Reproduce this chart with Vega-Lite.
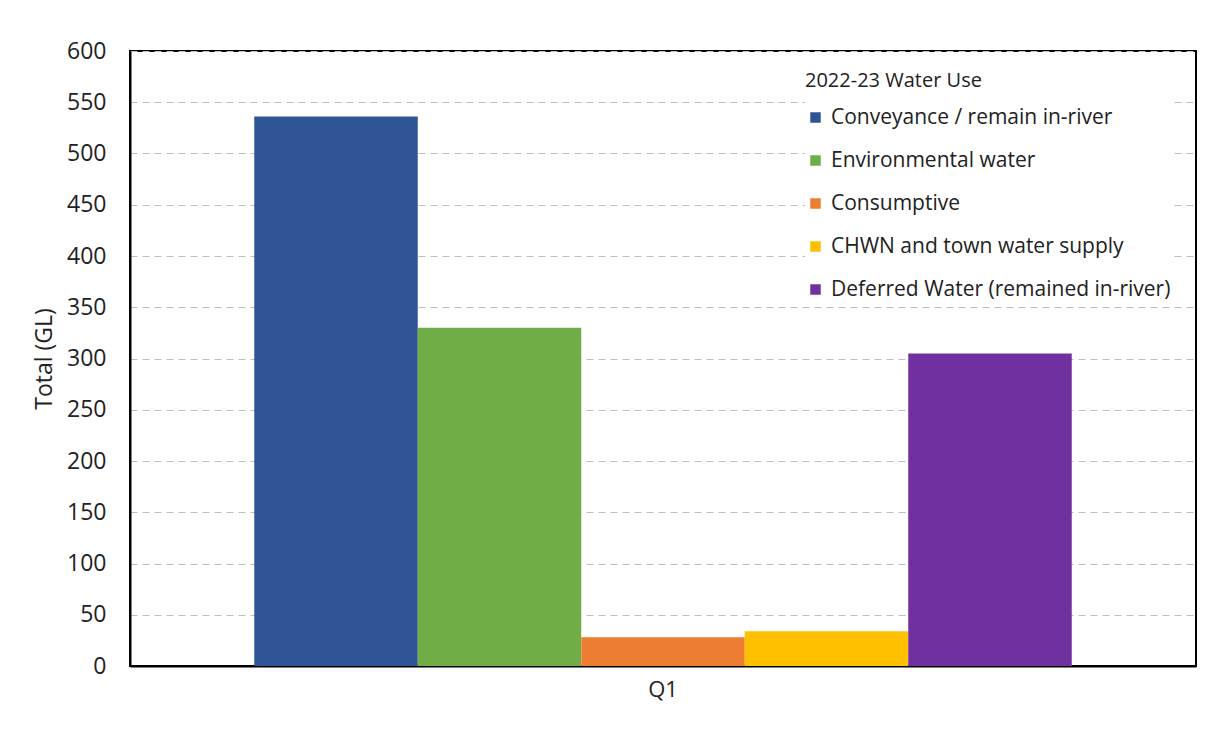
{
  "$schema": "https://vega.github.io/schema/vega-lite/v6.json",
  "autosize": {"type": "none"},
  "padding": {"left": 130, "top": 51, "right": 35, "bottom": 65},
  "width": 1066,
  "height": 615,
  "background": "white",
  "config": {
    "font": "Open Sans",
    "view": {"stroke": "black", "strokeWidth": 2}
  },
  "data": {
    "values": [
      {"quarter": "Q1", "use": "Conveyance / remain in-river", "total": 536},
      {"quarter": "Q1", "use": "Environmental water", "total": 330},
      {"quarter": "Q1", "use": "Consumptive", "total": 28},
      {"quarter": "Q1", "use": "CHWN and town water supply", "total": 34},
      {"quarter": "Q1", "use": "Deferred Water (remained in-river)", "total": 305}
    ]
  },
  "mark": {"type": "bar"},
  "encoding": {
    "x": {
      "field": "quarter",
      "type": "nominal",
      "scale": {"paddingInner": 0, "paddingOuter": 0.152},
      "axis": {
        "title": null,
        "labelAngle": 0,
        "labelFontSize": 22,
        "labelColor": "#222222",
        "labelPadding": 13,
        "ticks": false,
        "domainColor": "black",
        "domainWidth": 2
      }
    },
    "xOffset": {
      "field": "use",
      "type": "nominal",
      "sort": ["Conveyance / remain in-river", "Environmental water", "Consumptive", "CHWN and town water supply", "Deferred Water (remained in-river)"],
      "scale": {"paddingInner": 0, "paddingOuter": 0}
    },
    "y": {
      "field": "total",
      "type": "quantitative",
      "scale": {"domain": [0, 600], "nice": false},
      "axis": {
        "title": "Total (GL)",
        "titleFontSize": 23,
        "titleFontWeight": "normal",
        "titleColor": "#222222",
        "titlePadding": 10,
        "values": [0, 50, 100, 150, 200, 250, 300, 350, 400, 450, 500, 550, 600],
        "labelFontSize": 23,
        "labelColor": "#222222",
        "labelPadding": 24,
        "ticks": false,
        "domainColor": "black",
        "domainWidth": 2,
        "gridColor": "#bfbfbf",
        "gridDash": [7, 5],
        "gridWidth": 1
      }
    },
    "color": {
      "field": "use",
      "type": "nominal",
      "sort": ["Conveyance / remain in-river", "Environmental water", "Consumptive", "CHWN and town water supply", "Deferred Water (remained in-river)"],
      "scale": {
        "domain": ["Conveyance / remain in-river", "Environmental water", "Consumptive", "CHWN and town water supply", "Deferred Water (remained in-river)"],
        "range": ["#2F5597", "#70AD47", "#ED7D31", "#FFC000", "#7030A0"]
      },
      "legend": {
        "title": "2022-23  Water Use",
        "orient": "none",
        "legendX": 675,
        "legendY": 20,
        "titleFontSize": 20,
        "titleFontWeight": "normal",
        "titleColor": "#222222",
        "titleLimit": 400,
        "titlePadding": 16,
        "labelFontSize": 21,
        "labelColor": "#222222",
        "labelOffset": 5,
        "symbolType": "square",
        "symbolSize": 110,
        "symbolStrokeWidth": 0,
        "rowPadding": 21,
        "labelLimit": 400,
        "fillColor": "white"
      }
    }
  }
}
